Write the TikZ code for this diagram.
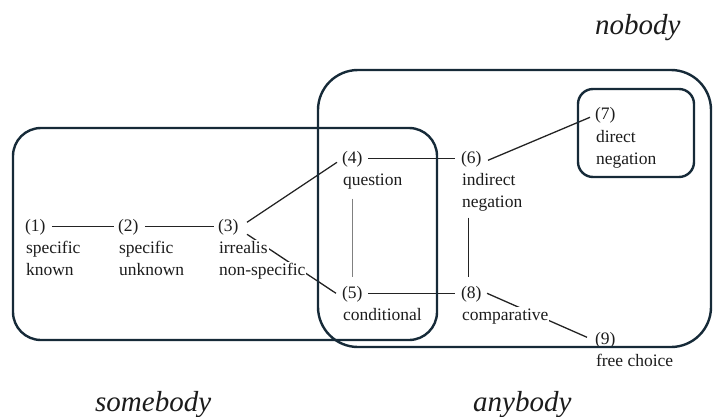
\documentclass[tikz,border=0pt]{standalone}
\usepackage{fontspec}
\setmainfont{Liberation Serif}
\pgfdeclarelayer{bg}
\pgfsetlayers{bg,main}
\definecolor{boxc}{RGB}{22,42,56}
\definecolor{txt}{RGB}{28,28,28}
\definecolor{lnc}{RGB}{35,35,35}
\tikzset{
  num/.style={anchor=base west, inner sep=0pt, outer sep=0pt, fill=white,
    text=txt, font=\fontsize{17.5}{22}\selectfont},
  lab/.style={anchor=base west, inner sep=1pt, outer sep=0pt, fill=white,
    text=txt, font=\fontsize{17.5}{22}\selectfont},
  setlab/.style={anchor=base west, inner sep=0pt, text=txt,
    font=\fontsize{29}{34}\selectfont\itshape},
  conn/.style={draw=lnc, line width=1.3pt},
  thinconn/.style={draw=black!50, line width=0.9pt},
  grp/.style={draw=boxc, line width=2.4pt}
}
\begin{document}
\begin{tikzpicture}[x=1pt,y=-1pt]
\useasboundingbox (0,0) rectangle (714,417);
% concept numbers
\node[num] (n1) at (25,231) {(1)};
\node[num] (n2) at (118,231) {(2)};
\node[num] (n3) at (218,231) {(3)};
\node[num] (n4) at (342,163) {(4)};
\node[num] (n6) at (461,163) {(6)};
\node[num] (n5) at (342,298) {(5)};
\node[num] (n8) at (461,298) {(8)};
\node[num] (n7) at (595,120) {(7)};
\node[num] (n9) at (595,344) {(9)};
% concept labels
\node[lab] (t1a) at ([yshift=-22pt]n1.base west) {specific};
\node[lab] (t1b) at ([yshift=-44pt]n1.base west) {known};
\node[lab] (t2a) at ([yshift=-22pt]n2.base west) {specific};
\node[lab] (t2b) at ([yshift=-44pt]n2.base west) {unknown};
\node[lab] (t3a) at ([yshift=-22pt]n3.base west) {irrealis};
\node[lab] (t3b) at ([yshift=-44pt]n3.base west) {non-specific};
\node[lab] (t4a) at ([yshift=-22pt]n4.base west) {question};
\node[lab] (t6a) at ([yshift=-22pt]n6.base west) {indirect};
\node[lab] (t6b) at ([yshift=-44pt]n6.base west) {negation};
\node[lab] (t5a) at ([yshift=-22pt]n5.base west) {conditional};
\node[lab] (t8a) at ([yshift=-22pt]n8.base west) {comparative};
\node[lab] (t7a) at ([yshift=-22pt]n7.base west) {direct};
\node[lab] (t7b) at ([yshift=-44pt]n7.base west) {negation};
\node[lab] (t9a) at ([yshift=-22pt]n9.base west) {free choice};
% connectors
\begin{pgfonlayer}{bg}
\draw[conn] ([xshift=6.5pt]n1.east) -- ([xshift=-4pt]n2.west);
\draw[conn] ([xshift=6.5pt]n2.east) -- ([xshift=-4pt]n3.west);
\draw[conn] ([xshift=8.6pt,yshift=4.5pt]n3.east) -- ([xshift=-5pt,yshift=-3.5pt]n4.west);
\draw[conn] ([xshift=8.6pt,yshift=-7.5pt]n3.east) -- ([xshift=-6pt,yshift=0.5pt]n5.west);
\draw[conn] ([xshift=5.6pt]n4.east) -- ([xshift=-6pt]n6.west);
\draw[conn] ([xshift=5.6pt]n5.east) -- ([xshift=-6pt]n8.west);
\draw[conn] ([xshift=6.6pt,yshift=-1.5pt]n6.east) -- ([xshift=-5pt,yshift=-1.5pt]n7.west);
\draw[conn] ([xshift=5.6pt,yshift=0.5pt]n8.east) -- ([xshift=-8pt,yshift=2.5pt]n9.west);
\draw[thinconn] ([yshift=-32pt]n4.south) -- ([yshift=9pt]n5.north);
\draw[conn] ([xshift=-3pt,yshift=-51pt]n6.south) -- ([xshift=-3pt,yshift=9pt]n8.north);
\end{pgfonlayer}
% groups
\draw[grp, rounded corners=28pt] (13,128) rectangle (437,340);
\draw[grp, rounded corners=40pt] (318,70) rectangle (711,347);
\draw[grp, rounded corners=15pt] (578,89) rectangle (694,177);
% group names
\node[setlab] (lnobody) at (595,35) {nobody};
\node[setlab] (lsomebody) at (95,411) {somebody};
\node[setlab] (lanybody) at (473,411) {anybody};
\end{tikzpicture}
\end{document}
